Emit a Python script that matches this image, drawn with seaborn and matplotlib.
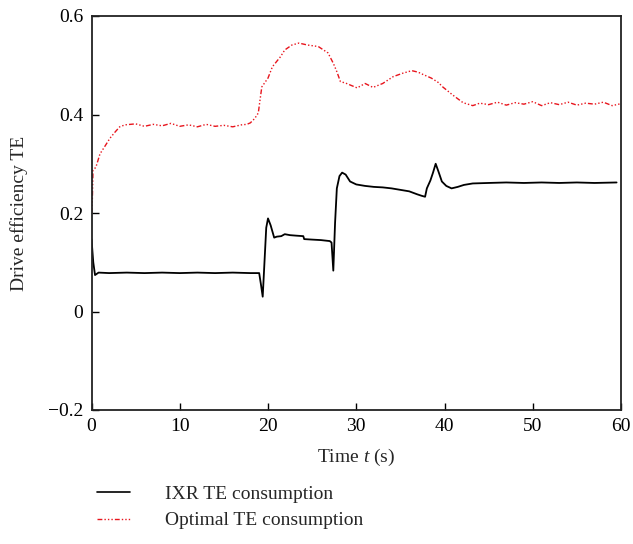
import numpy as np
import pandas as pd
import matplotlib
matplotlib.use("Agg")
import matplotlib.pyplot as plt
import seaborn as sns
from matplotlib.lines import Line2D

# IXR TE consumption (black)
ixr_t = [0.0, 0.2, 0.4, 0.8, 2, 4, 6, 8, 10, 12, 14, 16, 18, 19.0, 19.2, 19.4, 19.6, 19.8,
         20.0, 20.3, 20.7, 21.0, 21.5, 21.9, 22.5, 23.2, 24.0, 24.1, 25.0, 26.0, 27.0, 27.2,
         27.4, 27.6, 27.8, 28.1, 28.4, 28.8, 29.3, 30.0, 31.0, 32.0, 33.0, 34.0, 35.0, 36.0,
         36.9, 37.4, 37.8, 38.0, 38.4, 38.7, 39.0, 39.3, 39.7, 40.2, 40.8, 41.5, 42.2, 43.2,
         45, 47, 49, 51, 53, 55, 57, 59.5]
ixr_te = [0.147, 0.100, 0.074, 0.079, 0.078, 0.079, 0.078, 0.079, 0.078, 0.079, 0.078, 0.079,
          0.078, 0.078, 0.055, 0.030, 0.100, 0.170, 0.189, 0.175, 0.150, 0.152, 0.153, 0.157,
          0.155, 0.154, 0.153, 0.147, 0.146, 0.145, 0.143, 0.140, 0.083, 0.180, 0.250, 0.275,
          0.282, 0.278, 0.264, 0.258, 0.255, 0.253, 0.252, 0.250, 0.247, 0.244, 0.238, 0.235,
          0.233, 0.250, 0.266, 0.282, 0.300, 0.285, 0.264, 0.255, 0.250, 0.253, 0.257, 0.260,
          0.261, 0.262, 0.261, 0.262, 0.261, 0.262, 0.261, 0.262]

# Optimal TE consumption (red)
opt_t = [0.0, 0.1, 0.17, 0.5, 0.96, 1.5, 2.1, 2.7, 3.2, 3.8,
         5, 6, 7, 8, 9, 10, 11, 12, 13, 14, 15, 16, 17,
         17.6, 18.0, 18.5, 18.9, 19.1, 19.3, 20.0, 20.5, 21.4, 21.9, 22.7, 23.5, 24.5, 25.7,
         26.8, 27.4, 27.8, 28.2, 28.9, 30.1, 31.0, 31.9, 33.0, 34.2, 35.3, 36.3, 37.0, 37.6,
         38.5, 39.3, 39.8, 40.9, 42.1, 43.2,
         44, 45, 46, 47, 48, 49, 50, 51, 52, 53, 54, 55, 56, 57, 58, 59, 60]
opt_te = [0.200, 0.230, 0.287, 0.293, 0.320, 0.335, 0.352, 0.365, 0.375, 0.379,
          0.381, 0.376, 0.380, 0.377, 0.382, 0.376, 0.379, 0.375, 0.380, 0.376, 0.378, 0.375, 0.379,
          0.380, 0.383, 0.392, 0.403, 0.430, 0.456, 0.474, 0.497, 0.517, 0.531, 0.541, 0.545, 0.541, 0.538,
          0.525, 0.504, 0.487, 0.467, 0.463, 0.454, 0.463, 0.455, 0.463, 0.477, 0.484, 0.489, 0.486, 0.481,
          0.474, 0.465, 0.456, 0.440, 0.424, 0.418,
          0.423, 0.420, 0.425, 0.419, 0.424, 0.421, 0.426, 0.418, 0.424, 0.420, 0.425, 0.419, 0.423,
          0.421, 0.425, 0.418, 0.422]

x_ticks = [0, 10, 20, 30, 40, 50, 60]
y_ticks = [-0.2, 0, 0.2, 0.4, 0.6]
y_labels = ["\u22120.2", "0", "0.2", "0.4", "0.6"]

sns.set_theme(style="ticks")
plt.rcParams['font.family'] = ['Liberation Serif', 'DejaVu Serif']
plt.rcParams['mathtext.fontset'] = 'custom'
plt.rcParams['mathtext.it'] = 'Liberation Serif:italic'
plt.rcParams['mathtext.rm'] = 'Liberation Serif'

W, H = 633, 544
fig = plt.figure(figsize=(W / 100, H / 100), dpi=100)
ax = fig.add_axes([91.5 / W, 1 - 410 / H, (621 - 91.5) / W, (410 - 16) / H])

ixr = pd.DataFrame({"t": ixr_t, "te": ixr_te})
opt = pd.DataFrame({"t": opt_t, "te": opt_te})
sns.lineplot(data=ixr, x="t", y="te", ax=ax, color="black", lw=1.3)
dash = (0, (3.5, 1.5, 1, 1.5, 1, 1.5, 1, 1.5))
sns.lineplot(data=opt, x="t", y="te", ax=ax, color="#e8141c", lw=1.0, linestyle=dash)

ax.set_xlim(0, 60)
ax.set_ylim(-0.2, 0.6)
ax.set_xticks(x_ticks)
ax.set_yticks(y_ticks)
ax.set_yticklabels(y_labels)
ax.tick_params(direction="in", length=5, width=1, labelsize=14, colors="black", pad=6)
for s in ax.spines.values():
    s.set_linewidth(1.3)
    s.set_color("#222222")

ax.set_xlabel("Time $t$ (s)", fontsize=14, labelpad=8)
ax.set_ylabel("Drive efficiency TE", fontsize=14, labelpad=14)

handles = [Line2D([], [], color="black", lw=1.2),
           Line2D([], [], color="#e8141c", lw=1.0, linestyle=dash)]
fig.legend(handles, ["IXR TE consumption", "Optimal TE consumption"],
           loc="upper left", bbox_to_anchor=(79.5 / W, 1 - 468 / H), frameon=False,
           fontsize=14, handlelength=1.7, labelspacing=0.45, handletextpad=1.8)

fig.savefig("out.png", dpi=100)
